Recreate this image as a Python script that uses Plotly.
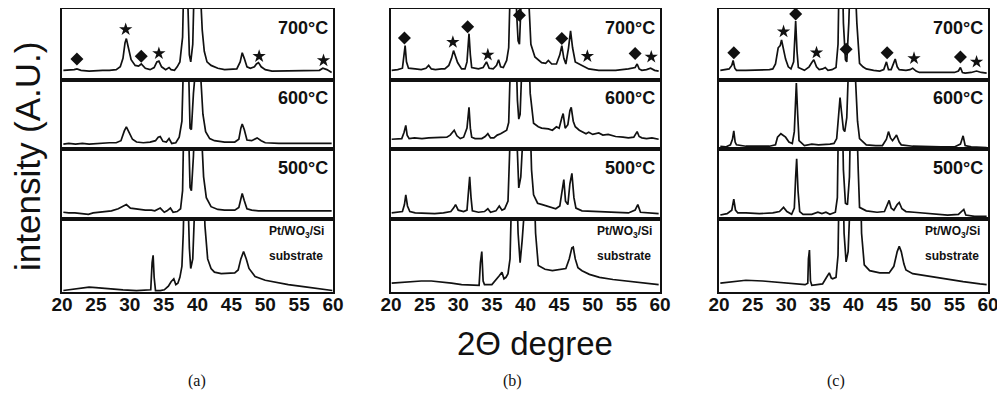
import plotly.graph_objects as go
from plotly.subplots import make_subplots

# ---------------- data (2theta, normalised intensity per sub-panel, 0-100 = frame) -------------
temps = ["700\u00b0C", "600\u00b0C", "500\u00b0C"]
panel_tags = ["(a)", "(b)", "(c)"]
tick_vals = [20, 25, 30, 35, 40, 45, 50, 55, 60]

a_700 = [(20.2, 13), (21.0, 13), (21.8, 14), (22.2, 15), (22.8, 13), (24, 12), (25, 13), (26, 13), (27, 13),
         (28, 14), (28.6, 18), (29.0, 30), (29.3, 52), (29.5, 58), (29.8, 45), (30.2, 28), (30.8, 20), (31.3, 19),
         (31.7, 22), (32.3, 16), (33.0, 14), (33.6, 17), (34.0, 25), (34.3, 26), (34.7, 18), (35.3, 14), (35.8, 17),
         (36.1, 14), (36.6, 13), (37.0, 18), (37.4, 25), (37.8, 60), (38.0, 150), (38.3, 160), (38.6, 100),
         (38.8, 35), (39.0, 25), (39.3, 50), (39.5, 130), (40.0, 170), (40.4, 130), (40.7, 70), (41.0, 40),
         (41.4, 25), (42.0, 20), (43, 16), (44, 14), (45, 14), (45.8, 15), (46.3, 25), (46.6, 38), (46.9, 30),
         (47.3, 18), (47.8, 16), (48.4, 18), (48.7, 22), (49.0, 24), (49.4, 18), (50, 14), (51, 12), (53, 12),
         (55, 12), (57, 12), (58.0, 13), (58.5, 16), (59.1, 14), (59.8, 10)]
a_600 = [(20.2, 7), (21, 8), (22, 7), (23, 8), (24, 7), (25, 8), (26, 8), (27, 9), (28, 9), (28.7, 12), (29.2, 26),
         (29.5, 32), (29.9, 24), (30.4, 14), (31.0, 10), (32, 9), (33, 10), (33.8, 12), (34.2, 17), (34.5, 18),
         (34.9, 11), (35.4, 10), (35.8, 15), (36.2, 8), (36.8, 9), (37.3, 17), (37.7, 40), (38.0, 150), (38.4, 160),
         (38.7, 110), (38.9, 30), (39.1, 28), (39.4, 80), (39.7, 170), (40.2, 170), (40.5, 100), (40.8, 50),
         (41.2, 25), (41.8, 15), (42.5, 12), (44, 10), (45.5, 10), (46.1, 14), (46.4, 30), (46.6, 36), (46.9, 28),
         (47.3, 13), (48.0, 12), (48.8, 16), (49.4, 12), (50, 9), (52, 8), (54, 8), (56, 8), (58, 9), (59.8, 8)]
a_500 = [(20.2, 9), (21.0, 8), (21.9, 8), (22.8, 7), (23.9, 6), (24.6, 8), (25.4, 9), (26.5, 10), (27.3, 11),
         (28.3, 14), (29.0, 18), (29.5, 20), (30.1, 15), (30.8, 14), (31.5, 13), (32.3, 12), (33.2, 12),
         (33.7, 11), (34.5, 15), (35.1, 9), (35.5, 11), (36.0, 15), (36.4, 9), (37.0, 10), (37.5, 14), (37.8, 40),
         (38.0, 150), (38.4, 160), (38.7, 120), (38.9, 45), (39.1, 40), (39.4, 90), (39.7, 170), (40.3, 170),
         (40.6, 120), (40.9, 60), (41.3, 30), (42.0, 17), (43, 13), (44, 12), (45.5, 12), (46.1, 16), (46.4, 28),
         (46.6, 36), (46.9, 26), (47.3, 14), (48, 12), (49, 11), (51, 11), (54, 11), (57, 11), (59.8, 11)]
a_sub = [(20.2, 2), (21, 3), (22, 5), (23, 6), (24, 6.5), (25, 6), (26, 5), (27.5, 4), (29, 3), (31, 2),
         (32.5, 2), (33.1, 3), (33.3, 40), (33.45, 50), (33.6, 20), (33.8, 2), (34.5, 2), (35.1, 3), (35.7, 8),
         (36.1, 14), (36.5, 18), (36.8, 10), (37.1, 12), (37.4, 20), (37.7, 35), (37.9, 80), (38.1, 160),
         (38.5, 160), (38.8, 60), (39.0, 32), (39.3, 45), (39.6, 120), (40.0, 170), (40.8, 170), (41.1, 90),
         (41.5, 45), (42.0, 32), (42.5, 27), (43.5, 25), (44.5, 26), (45.5, 26), (46.0, 30), (46.4, 45),
         (46.8, 55), (47.2, 45), (47.6, 32), (48.5, 21), (50, 16), (51, 14), (53.4, 10), (55.9, 7), (58.4, 4),
         (59.9, 2)]

b_700 = [(20.1, 13), (21.0, 14), (21.7, 16), (22.0, 35), (22.1, 48), (22.3, 25), (22.6, 16), (23.6, 15),
         (24.5, 14), (25.2, 16), (25.6, 20), (26.0, 15), (26.6, 14), (27.5, 15), (28.0, 15), (28.6, 20), (29.0, 30),
         (29.3, 41), (29.6, 32), (29.9, 24), (30.5, 15), (31.0, 15), (31.3, 25), (31.5, 60), (31.6, 65),
         (31.8, 35), (32.0, 17), (33.0, 15), (33.7, 17), (34.2, 25), (34.6, 16), (35.2, 15), (35.7, 20),
         (36.0, 28), (36.3, 18), (36.7, 17), (37.2, 27), (37.5, 45), (37.7, 120), (38.0, 170), (38.4, 170),
         (38.7, 90), (38.9, 55), (39.1, 50), (39.3, 90), (39.6, 170), (40.2, 170), (40.5, 100), (40.8, 50),
         (41.4, 32), (42.0, 27), (42.4, 24), (43.0, 23), (43.4, 27), (43.9, 22), (44.6, 22), (45.1, 35),
         (45.4, 48), (45.7, 30), (46.0, 22), (46.4, 45), (46.7, 69), (47.0, 45), (47.4, 25), (48.4, 20),
         (49.4, 15), (50.9, 13), (52, 13), (53.4, 13), (55.3, 15), (56.3, 17), (56.6, 22), (56.9, 15), (57.3, 13),
         (58.0, 14), (58.6, 16), (59.2, 13), (59.8, 12)]
b_600 = [(20.1, 14), (21.0, 15), (21.6, 15), (21.95, 24), (22.2, 34), (22.4, 20), (22.7, 15), (23.5, 16),
         (24.6, 15), (25.6, 16), (26.6, 16), (27.5, 17), (28.3, 17), (28.8, 20), (29.4, 27), (29.8, 19),
         (30.3, 15), (30.8, 17), (31.3, 30), (31.6, 60), (31.8, 30), (32.0, 17), (32.5, 15), (33.5, 15),
         (34.0, 18), (34.4, 22), (34.8, 16), (35.3, 16), (35.8, 20), (36.3, 22), (36.8, 25), (37.2, 27),
         (37.5, 38), (37.7, 100), (37.9, 170), (38.5, 170), (38.8, 70), (39.0, 43), (39.2, 50), (39.5, 130),
         (39.8, 170), (40.4, 170), (40.7, 80), (41.2, 37), (41.9, 32), (42.4, 30), (43.4, 29), (44.0, 27),
         (44.6, 32), (45.0, 30), (45.4, 45), (45.6, 51), (45.9, 30), (46.3, 35), (46.6, 55), (46.8, 60),
         (47.1, 40), (47.4, 32), (48.0, 27), (48.4, 25), (49.0, 22), (49.4, 24), (50.0, 21), (50.9, 23),
         (51.5, 20), (52.3, 21), (53.4, 18), (54.5, 17), (55.3, 16), (56.1, 17), (56.4, 22), (56.6, 25),
         (56.9, 18), (57.3, 16), (58.0, 15), (58.8, 16), (59.8, 14)]
b_500 = [(20.1, 8), (21.0, 9), (21.7, 10), (22.0, 20), (22.2, 34), (22.45, 18), (22.8, 10), (23.6, 8), (25, 7),
         (26.5, 7), (27.8, 8), (28.9, 10), (29.3, 15), (29.6, 20), (30.0, 12), (30.8, 10), (31.3, 12), (31.5, 35),
         (31.7, 60), (31.9, 30), (32.1, 11), (33.0, 9), (33.9, 10), (34.4, 14), (34.8, 9), (35.6, 11), (36.1, 18),
         (36.5, 12), (36.9, 14), (37.4, 25), (37.7, 100), (37.9, 170), (38.5, 170), (38.8, 80), (39.0, 44),
         (39.3, 60), (39.6, 160), (39.9, 170), (40.6, 170), (40.9, 70), (41.2, 34), (41.8, 22), (42.5, 20),
         (43.5, 17), (44.5, 14), (45.1, 18), (45.4, 35), (45.7, 56), (45.95, 25), (46.3, 20), (46.6, 50),
         (46.9, 65), (47.2, 30), (47.5, 15), (48.4, 11), (50.9, 10), (53.4, 8), (55.3, 8), (56.3, 12),
         (56.7, 20), (57.1, 9), (58.0, 8), (59.8, 7)]
b_sub = [(20.1, 12), (21.5, 13), (23, 14), (24.5, 15), (26, 15), (27.5, 14), (29, 12), (30.5, 10), (32, 9),
         (33.1, 9), (33.3, 40), (33.5, 55), (33.7, 15), (33.9, 10), (35.0, 10), (35.7, 17), (36.1, 22),
         (36.5, 27), (36.8, 18), (37.1, 20), (37.4, 25), (37.7, 45), (37.9, 120), (38.2, 170), (38.6, 170),
         (38.9, 80), (39.2, 40), (39.5, 70), (39.8, 150), (40.3, 170), (41.2, 170), (41.5, 80), (41.9, 36),
         (42.4, 33), (42.9, 31), (44, 29), (45, 30), (46, 32), (46.5, 45), (46.9, 60), (47.1, 61), (47.4, 45),
         (47.8, 33), (48.4, 29), (49.5, 24), (51, 20), (53, 17), (55, 15), (57, 13), (59.8, 10)]

c_700 = [(20.2, 13), (21.5, 15), (21.9, 20), (22.1, 27), (22.35, 16), (22.6, 13), (24.0, 13), (25.5, 13),
         (26.5, 13), (27.5, 14), (28.0, 15), (28.4, 22), (28.8, 45), (29.1, 48), (29.3, 56), (29.6, 40),
         (29.9, 29), (30.3, 18), (30.7, 15), (31.1, 25), (31.3, 75), (31.4, 83), (31.6, 40), (31.8, 17),
         (32.7, 13), (33.4, 18), (33.8, 24), (34.1, 28), (34.5, 18), (34.9, 14), (35.4, 15), (35.8, 17),
         (36.2, 13), (36.8, 14), (37.4, 17), (37.7, 50), (37.9, 170), (38.3, 170), (38.5, 80), (38.8, 28),
         (39.0, 25), (39.3, 80), (39.6, 170), (40.1, 170), (40.5, 80), (40.9, 23), (41.4, 18), (41.9, 15),
         (43.0, 13), (43.9, 12), (44.5, 14), (44.9, 25), (45.2, 14), (45.6, 14), (46.0, 24), (46.2, 29),
         (46.5, 18), (46.8, 14), (47.8, 13), (48.4, 14), (48.8, 16), (49.3, 12), (49.8, 10), (51, 10),
         (52.5, 9), (53.8, 9), (55.0, 10), (55.6, 12), (55.9, 17), (56.2, 10), (56.6, 9), (57.5, 10),
         (58.3, 12), (59.0, 10), (59.8, 9)]
c_600 = [(20.2, 4), (21.0, 3), (21.7, 6), (22.0, 14), (22.2, 26), (22.4, 10), (22.6, 6), (24, 4), (26, 4),
         (27.5, 4), (28.4, 6), (28.7, 17), (29.2, 22), (29.5, 20), (29.9, 17), (30.4, 10), (30.9, 8), (31.2, 25),
         (31.4, 80), (31.5, 95), (31.7, 50), (31.9, 12), (32.7, 5), (33.8, 7), (34.8, 6), (35.9, 6), (36.5, 7),
         (37.1, 8), (37.5, 15), (37.8, 50), (38.0, 74), (38.2, 55), (38.5, 28), (38.7, 25), (39.0, 45),
         (39.3, 130), (39.5, 170), (40.0, 170), (40.3, 100), (40.6, 40), (40.9, 15), (41.9, 6), (43.3, 5),
         (44.3, 5), (44.9, 14), (45.2, 25), (45.5, 16), (45.8, 12), (46.1, 16), (46.4, 20), (46.8, 10),
         (47.1, 6), (48.8, 4), (51, 3), (53, 3), (55, 3), (55.9, 7), (56.3, 19), (56.6, 5), (57.5, 3), (59.8, 2)]
c_500 = [(20.2, 5), (21.2, 7), (21.9, 12), (22.2, 28), (22.45, 12), (22.8, 8), (24, 8), (26, 7), (28, 8),
         (29.0, 10), (29.6, 16), (30.1, 10), (30.8, 6), (31.2, 15), (31.4, 60), (31.55, 86), (31.75, 40),
         (32.0, 10), (32.5, 6), (33.8, 6), (34.7, 9), (35.3, 7), (35.9, 9), (36.5, 6), (37.3, 9), (37.6, 30),
         (37.8, 170), (38.3, 170), (38.5, 70), (38.8, 22), (39.1, 20), (39.4, 60), (39.6, 170), (40.4, 170),
         (40.7, 70), (40.9, 16), (41.9, 11), (43.5, 9), (44.6, 10), (45.0, 20), (45.3, 26), (45.6, 15),
         (46.0, 12), (46.5, 20), (46.8, 23), (47.2, 14), (47.8, 10), (49.0, 9), (51.5, 7), (54, 5), (55.6, 6),
         (56.1, 10), (56.4, 13), (56.7, 5), (58, 3), (59.8, 3)]
c_sub = [(20.2, 12), (22, 14), (24, 16), (26.5, 15), (28.9, 13), (31.3, 11), (32.8, 10), (33.2, 12),
         (33.3, 45), (33.45, 57), (33.6, 15), (33.8, 9), (35.4, 11), (36.0, 20), (36.4, 26), (36.7, 19),
         (36.9, 18), (37.4, 20), (37.7, 50), (37.9, 170), (38.4, 170), (38.6, 80), (38.9, 41), (39.2, 55),
         (39.5, 140), (39.7, 170), (41.0, 170), (41.2, 80), (41.6, 37), (42.4, 29), (43.9, 26), (45.3, 26),
         (46.0, 35), (46.5, 55), (46.8, 62), (47.1, 55), (47.5, 38), (47.8, 30), (48.8, 25), (51.3, 21),
         (53.8, 17), (56.3, 14), (58.8, 11), (59.8, 10)]

# peak markers on the 700 C patterns: (2theta, height)
a_diamonds = [(22.2, 29), (31.7, 33)]
a_stars = [(29.4, 71), (34.3, 37), (49.1, 33), (58.6, 27)]
b_diamonds = [(22.0, 59), (31.4, 75), (39.1, 91), (45.4, 58), (56.3, 37)]
b_stars = [(29.2, 53), (34.4, 35), (49.2, 33), (58.7, 32)]
c_diamonds = [(22.2, 38), (31.4, 93), (38.9, 43), (45.0, 38), (55.9, 32)]
c_stars = [(29.6, 68), (34.5, 38), (49.0, 30), (58.3, 25)]

panels = [[a_700, a_600, a_500, a_sub], [b_700, b_600, b_500, b_sub], [c_700, c_600, c_500, c_sub]]
diamonds = [a_diamonds, b_diamonds, c_diamonds]
stars = [a_stars, b_stars, c_stars]

# ---------------- layout geometry ----------------
# the page body adds an 8 px offset, so the figure is drawn 8 px smaller and shifted by 8 px
OFF = 8
W, H = 1005 - OFF, 395 - OFF
col_px = [(62, 333), (391, 660), (719, 988)]
row_px = [(9, 79.5), (79.5, 149), (149, 218.5), (218.5, 292)]
INK = "#111111"
NARROW = "Liberation Sans Narrow, Liberation Sans, Arial"


def px_x(v):
    return (v - OFF) / W


def px_y(v):
    return 1 - (v - OFF) / H


fig = make_subplots(rows=4, cols=3)

for c in range(3):
    for r in range(4):
        pts = panels[c][r]
        fig.add_trace(go.Scatter(x=[p[0] for p in pts], y=[p[1] for p in pts], mode="lines",
                                 line=dict(color=INK, width=1.7), showlegend=False, hoverinfo="skip"),
                      row=r + 1, col=c + 1)
        x0, x1 = col_px[c]
        y0, y1 = row_px[r]
        fig.update_xaxes(row=r + 1, col=c + 1, domain=[px_x(x0), px_x(x1)], range=[20, 60],
                         showline=True, mirror=True, linecolor=INK, linewidth=2, showgrid=False,
                         zeroline=False, tickvals=tick_vals, ticks="", ticklen=0, automargin=False,
                         showticklabels=(r == 3), ticklabelstandoff=-6,
                         tickfont=dict(family=NARROW, size=19, color=INK, weight="bold"))
        fig.update_yaxes(row=r + 1, col=c + 1, domain=[px_y(y1), px_y(y0)], range=[0, 100],
                         showline=True, mirror=True, linecolor=INK, linewidth=2, showgrid=False,
                         zeroline=False, showticklabels=False, ticks="", automargin=False)
        idx = r * 3 + c + 1
        xr = "x" if idx == 1 else f"x{idx}"
        yr = "y" if idx == 1 else f"y{idx}"
        if r < 3:
            fig.add_annotation(x=59.6, y=73, xref=xr, yref=yr, text=temps[r], showarrow=False,
                               xanchor="right", yanchor="middle",
                               font=dict(family=NARROW, size=18, color=INK, weight="bold"))
        else:
            fig.add_annotation(x=50.3, y=81, xref=xr, yref=yr, text="Pt/WO<sub>3</sub>/Si",
                               showarrow=False, xanchor="left", yanchor="middle",
                               font=dict(family=NARROW, size=12, color=INK, weight="bold"))
            fig.add_annotation(x=50.3, y=49, xref=xr, yref=yr, text="substrate",
                               showarrow=False, xanchor="left", yanchor="middle",
                               font=dict(family=NARROW, size=12, color=INK, weight="bold"))
    # markers on the top (700 C) pattern
    fig.add_trace(go.Scatter(x=[p[0] for p in diamonds[c]], y=[p[1] for p in diamonds[c]], mode="markers",
                             marker=dict(symbol="diamond", size=10, color=INK), showlegend=False,
                             hoverinfo="skip", cliponaxis=False), row=1, col=c + 1)
    fig.add_trace(go.Scatter(x=[p[0] for p in stars[c]], y=[p[1] for p in stars[c]], mode="markers",
                             marker=dict(symbol="star", size=10, color=INK), showlegend=False,
                             hoverinfo="skip", cliponaxis=False), row=1, col=c + 1)

# titles and panel tags
fig.add_annotation(x=px_x(27), y=px_y(156), xref="paper", yref="paper", text="intensity (A.U.)",
                   textangle=-90, showarrow=False, xanchor="center", yanchor="middle",
                   font=dict(family="Liberation Sans, Arial", size=35, color=INK))
fig.add_annotation(x=px_x(535), y=px_y(343), xref="paper", yref="paper", text="2\u0398 degree",
                   showarrow=False, xanchor="center", yanchor="middle",
                   font=dict(family="Liberation Sans, Arial", size=33, color=INK))
for tag, xc in zip(panel_tags, [197, 512, 836]):
    fig.add_annotation(x=px_x(xc), y=px_y(381), xref="paper", yref="paper", text=tag, showarrow=False,
                       xanchor="center", yanchor="middle",
                       font=dict(family="Liberation Serif, Times New Roman, serif", size=16, color=INK))

fig.update_layout(template="none", width=W, height=H, margin=dict(l=0, r=0, t=0, b=0, autoexpand=False),
                  paper_bgcolor="white", plot_bgcolor="white", font=dict(family="Liberation Sans, Arial"))
fig.write_html("out.html")
